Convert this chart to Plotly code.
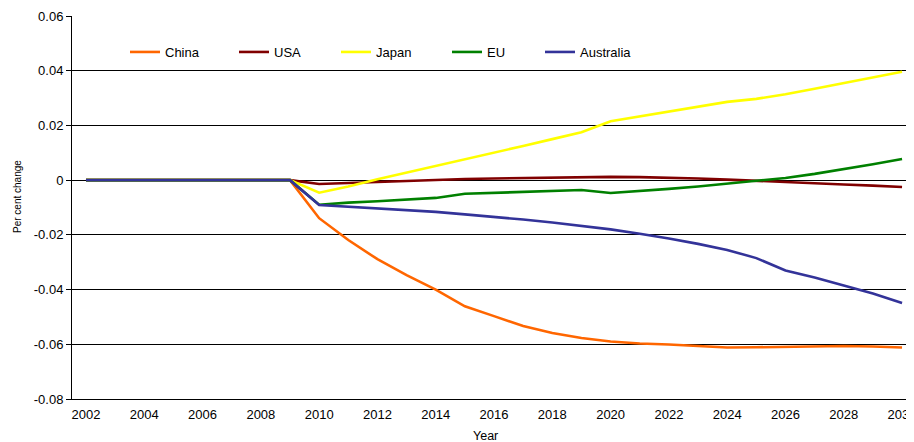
import plotly.graph_objects as go

years = list(range(2002, 2031))
series_names = ["China", "USA", "Japan", "EU", "Australia"]
series_colors = ["#FF6600", "#800000", "#FFFF00", "#008000", "#333399"]

pre = [0.0] * 8  # 2002-2009

china = pre + [-0.0139, -0.0219, -0.0289, -0.0347, -0.0400, -0.0461, -0.0497, -0.0533, -0.0559,
               -0.0577, -0.0590, -0.0597, -0.0601, -0.0607, -0.0612, -0.0611, -0.0609, -0.0607,
               -0.0606, -0.0608, -0.0612]
usa = pre + [-0.0014, -0.0010, -0.0006, -0.0002, 0.0001, 0.0004, 0.0006, 0.0008, 0.0009,
             0.0010, 0.0012, 0.0011, 0.0009, 0.0006, 0.0002, -0.0003, -0.0008, -0.0012,
             -0.0016, -0.0020, -0.0025]
japan = pre + [-0.0046, -0.0023, 0.0003, 0.0027, 0.0051, 0.0076, 0.0100, 0.0125, 0.0150,
               0.0175, 0.0215, 0.0233, 0.0251, 0.0268, 0.0286, 0.0297, 0.0314, 0.0334,
               0.0354, 0.0375, 0.0396]
eu = pre + [-0.0090, -0.0082, -0.0077, -0.0071, -0.0065, -0.0050, -0.0046, -0.0043, -0.0040,
            -0.0036, -0.0047, -0.0040, -0.0032, -0.0023, -0.0012, -0.0002, 0.0008, 0.0023,
            0.0040, 0.0058, 0.0077]
australia = pre + [-0.0091, -0.0097, -0.0102, -0.0108, -0.0116, -0.0125, -0.0134, -0.0144, -0.0155,
                   -0.0168, -0.0180, -0.0196, -0.0213, -0.0233, -0.0255, -0.0285, -0.0330, -0.0356,
                   -0.0385, -0.0414, -0.0449]

series_values = [china, usa, japan, eu, australia]

y_tickvals = [0.06, 0.04, 0.02, 0.0, -0.02, -0.04, -0.06, -0.08]
y_ticktext = ["0.06", "0.04", "0.02", "0", "-0.02", "-0.04", "-0.06", "-0.08"]
x_tickvals = list(range(2002, 2031, 2))
x_ticktext = [str(v) for v in x_tickvals]

# legend text start positions (page pixels)
legend_text_px = [165, 274, 376, 487, 580]

FONT = "Arial, Liberation Sans, sans-serif"
W, H = 914, 442
OFF = 8  # page body margin
L, R, T, B = 72 - OFF, 914 - OFF, 16 - OFF, 399 - OFF
PW, PH = R - L, B - T

fig = go.Figure()
legend_keys = ["legend", "legend2", "legend3", "legend4", "legend5"]
for name, col, vals, lk in zip(series_names, series_colors, series_values, legend_keys):
    fig.add_trace(go.Scatter(
        x=years, y=vals, mode="lines", name=name,
        line=dict(color=col, width=2.6),
        legend=lk, hoverinfo="x+y+name",
    ))

layout_legends = {}
for lk, px in zip(legend_keys, legend_text_px):
    layout_legends[lk] = dict(
        orientation="h", xref="paper", yref="paper",
        x=(px - 48 - L) / PW, y=(B - (52 - OFF)) / PH, xanchor="left", yanchor="middle",
        bgcolor="rgba(0,0,0,0)", font=dict(family=FONT, size=13, color="#000"),
        itemwidth=30, tracegroupgap=0,
    )

fig.update_layout(
    width=W, height=H, autosize=False,
    margin=dict(l=L, r=W - R, t=T, b=H - B, pad=0),
    paper_bgcolor="white", plot_bgcolor="white",
    font=dict(family=FONT, size=13, color="#000"),
    showlegend=True,
    **layout_legends,
    xaxis=dict(
        range=[2001.52, 2030.41], tickvals=x_tickvals, ticktext=x_ticktext,
        showgrid=False, zeroline=False, showline=True, linecolor="black", linewidth=1,
        ticks="", ticklabelstandoff=3, tickfont=dict(family=FONT, size=13, color="#000"),
        fixedrange=True, automargin=False,
    ),
    yaxis=dict(
        range=[-0.08, 0.06], tickvals=y_tickvals, ticktext=y_ticktext,
        showgrid=True, gridcolor="black", gridwidth=1,
        zeroline=True, zerolinecolor="black", zerolinewidth=1,
        showline=True, linecolor="black", linewidth=1,
        ticks="outside", ticklen=5, tickcolor="black", tickwidth=1,
        tickfont=dict(family=FONT, size=13, color="#000"),
        fixedrange=True, automargin=False,
    ),
    annotations=[
        dict(text="Year", xref="paper", yref="paper", x=(485 - OFF - L) / PW,
             y=-(436 - OFF - B) / PH,
             xanchor="center", yanchor="middle", showarrow=False,
             font=dict(family=FONT, size=12.5, color="#000")),
        dict(text="Per cent change", xref="paper", yref="paper", x=-(L - (17 - OFF)) / PW,
             y=(B - (197 - OFF)) / PH, xanchor="center", yanchor="middle", textangle=-90,
             showarrow=False, font=dict(family=FONT, size=10, color="#000")),
    ],
)

fig.write_html("out.html")
